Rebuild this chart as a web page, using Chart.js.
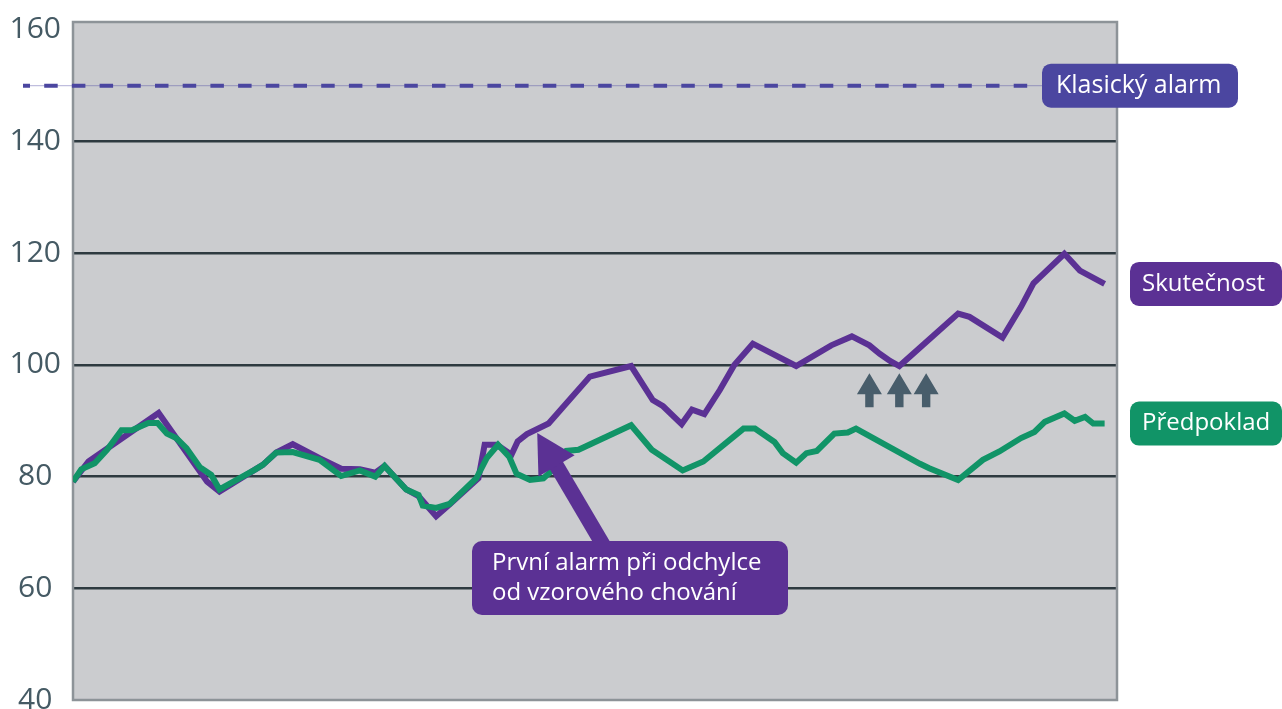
<!DOCTYPE html>
<html>
<head>
<meta charset="utf-8">
<script src="https://cdn.jsdelivr.net/npm/chart.js@4.4.0/dist/chart.umd.min.js"></script>
<style>
  html, body { margin: 0; padding: 0; background: #fff; }
  #wrap { width: 1282px; height: 709px; }
</style>
</head>
<body>
<div id="wrap"><canvas id="chart"></canvas></div>
<script>
// y axis ticks
const yTicks = [40, 60, 80, 100, 120, 140, 160];

// Skutečnost (actual)
const actualDays = [0, 1.5, 8.3, 13.0, 14.2, 17.6, 18.4, 19.7, 21.3, 23.9,
  26.0, 27.8, 29.3, 30.2, 32.3, 33.5, 35.2, 36.5, 39.3, 39.9,
  41.1, 42.5, 43.1, 44.0, 46.1, 50.1, 54.1, 56.2, 57.2, 59.0,
  60.0, 61.2, 62.7, 64.1, 65.9, 70.1, 73.5, 75.5, 77.2, 78.2,
  79.2, 80.1, 85.8, 86.9, 90.1, 91.9, 93.1, 96.1, 97.6, 100];
const actualValues = [79.1, 82.7, 91.4, 79.1, 77.3, 81.2, 82.1, 84.3, 85.8, 83.3,
  81.4, 81.3, 80.7, 81.9, 77.7, 76.5, 72.9, 75.0, 79.7, 85.7,
  85.7, 83.9, 86.3, 87.6, 89.5, 97.9, 99.8, 93.7, 92.6, 89.4,
  92.0, 91.2, 95.5, 100.0, 103.8, 99.8, 103.5, 105.1, 103.5, 102.0,
  100.7, 99.8, 109.2, 108.6, 104.9, 110.4, 114.6, 119.9, 116.9, 114.5];

// Předpoklad (forecast)
const forecastDays = [0, 0.8, 2.1, 3.3, 4.7, 5.7, 7.3, 8.2, 9.1, 10.0,
  11.0, 12.3, 13.4, 14.2, 17.6, 18.4, 19.7, 21.3, 23.9, 26.0,
  27.8, 29.3, 30.2, 32.3, 33.5, 33.9, 35.2, 36.5, 39.1, 40.1,
  41.2, 42.3, 43.0, 44.3, 45.6, 46.5, 47.4, 47.8, 49.0, 54.1,
  56.1, 59.1, 61.1, 65.0, 66.1, 68.0, 68.8, 70.1, 71.1, 72.1,
  73.8, 75.1, 75.9, 82.1, 83.0, 85.8, 88.2, 89.8, 91.9, 93.2,
  94.2, 96.1, 97.1, 98.1, 98.9, 100];
const forecastValues = [79.1, 81.3, 82.4, 84.8, 88.3, 88.3, 89.6, 89.6, 87.7, 86.9,
  85.1, 81.7, 80.3, 77.7, 81.2, 82.1, 84.3, 84.4, 83.0, 80.1,
  81.1, 80.0, 81.9, 77.7, 76.7, 74.8, 74.4, 75.1, 79.7, 83.3,
  85.7, 83.5, 80.5, 79.4, 79.7, 81.2, 83.9, 84.6, 84.8, 89.2,
  84.8, 81.1, 82.7, 88.6, 88.6, 86.2, 84.2, 82.5, 84.2, 84.6,
  87.7, 87.9, 88.6, 82.3, 81.5, 79.4, 83.0, 84.5, 86.9, 88.0,
  89.8, 91.3, 90.0, 90.7, 89.5, 89.5];

const alarmLevel = 150;
const alarmLabel = 'Klasický alarm';
const seriesNames = ['Skutečnost', 'Předpoklad'];
const calloutLines = ['První alarm při odchylce', 'od vzorového chování'];
const calloutPoint = [45.0, 87.8];
const upArrowDays = [77.2, 80.1, 82.7];
const upArrowValue = 98.5;

const PURPLE = '#5b3194';
const GREEN = '#119467';
const INDIGO = '#4b46a0';
const FONT = '"Open Sans", "Noto Sans", sans-serif';

function pts(xs, ys) {
  return xs.map((d, i) => ({ x: d, y: ys[i] }));
}

function box(ctx, x, y, w, h, r, color) {
  ctx.fillStyle = color;
  ctx.beginPath();
  ctx.roundRect(x, y, w, h, r);
  ctx.fill();
}

function label(ctx, text, x, y, size) {
  ctx.fillStyle = '#fff';
  ctx.font = (size || 24) + 'px ' + FONT;
  ctx.textBaseline = 'middle';
  ctx.textAlign = 'left';
  ctx.fillText(text, x, y);
}

const decor = {
  id: 'decor',
  beforeDraw(chart) {
    const { ctx, chartArea: a } = chart;
    ctx.save();
    ctx.fillStyle = '#cbcccf';
    ctx.fillRect(a.left, a.top, a.right - a.left, a.bottom - a.top);
    ctx.restore();
  },
  beforeDatasetsDraw(chart) {
    const { ctx, chartArea: a } = chart;
    ctx.save();
    ctx.strokeStyle = '#8d9398';
    ctx.lineWidth = 2.5;
    ctx.strokeRect(a.left, a.top, a.right - a.left, a.bottom - a.top);
    ctx.restore();
  },
  afterDatasetsDraw(chart) {
    const { ctx, scales: { x, y } } = chart;
    ctx.save();

    // classic alarm threshold
    const ay = y.getPixelForValue(alarmLevel);
    ctx.strokeStyle = 'rgba(75,70,160,0.35)';
    ctx.lineWidth = 1.2;
    ctx.beginPath(); ctx.moveTo(23, ay); ctx.lineTo(1042, ay); ctx.stroke();
    ctx.strokeStyle = INDIGO;
    ctx.lineWidth = 4;
    ctx.setLineDash([13.5, 14.2]);
    ctx.lineDashOffset = 6.5;
    ctx.beginPath(); ctx.moveTo(23, ay); ctx.lineTo(1034, ay); ctx.stroke();
    ctx.setLineDash([]);
    box(ctx, 1042, ay - 22, 196, 44, 9, INDIGO);
    label(ctx, alarmLabel, 1056, ay, 25);

    // end labels
    const ya = y.getPixelForValue(actualValues[actualValues.length - 1]);
    box(ctx, 1130, ya - 22, 152, 44, 9, PURPLE);
    label(ctx, seriesNames[0], 1142, ya);
    const yf = y.getPixelForValue(forecastValues[forecastValues.length - 1]);
    box(ctx, 1130, yf - 22, 152, 44, 9, GREEN);
    label(ctx, seriesNames[1], 1142, yf);

    // grey up arrows
    ctx.fillStyle = '#485d6b';
    const ty = y.getPixelForValue(upArrowValue);
    upArrowDays.forEach(d => {
      const cx = x.getPixelForValue(d);
      ctx.beginPath();
      ctx.moveTo(cx, ty);
      ctx.lineTo(cx + 12.5, ty + 21);
      ctx.lineTo(cx + 4.2, ty + 21);
      ctx.lineTo(cx + 4.2, ty + 34);
      ctx.lineTo(cx - 4.2, ty + 34);
      ctx.lineTo(cx - 4.2, ty + 21);
      ctx.lineTo(cx - 12.5, ty + 21);
      ctx.closePath();
      ctx.fill();
    });

    // callout arrow
    const tx = x.getPixelForValue(calloutPoint[0]);
    const tyy = y.getPixelForValue(calloutPoint[1]);
    const dx = 0.508, dy = 0.862;
    const px = 0.862, py = -0.508;
    ctx.strokeStyle = PURPLE;
    ctx.lineWidth = 15;
    ctx.beginPath();
    ctx.moveTo(tx + dx * 30, tyy + dy * 30);
    ctx.lineTo(tx + dx * 150, tyy + dy * 150);
    ctx.stroke();
    ctx.fillStyle = PURPLE;
    const bx = tx + dx * 38, by = tyy + dy * 38;
    ctx.beginPath();
    ctx.moveTo(tx, tyy);
    ctx.lineTo(bx + px * 21, by + py * 21);
    ctx.lineTo(bx - px * 21, by - py * 21);
    ctx.closePath();
    ctx.fill();

    box(ctx, 472, 541, 316, 74, 10, PURPLE);
    label(ctx, calloutLines[0], 492, 563);
    label(ctx, calloutLines[1], 492, 593);

    ctx.restore();
  }
};

new Chart(document.getElementById('chart'), {
  type: 'line',
  data: {
    datasets: [
      {
        label: seriesNames[1],
        data: pts(forecastDays, forecastValues),
        borderColor: GREEN,
        borderWidth: 6,
        borderJoinStyle: 'miter',
        pointRadius: 0,
        tension: 0,
        order: 1
      },
      {
        label: seriesNames[0],
        data: pts(actualDays, actualValues),
        borderColor: PURPLE,
        borderWidth: 6,
        borderJoinStyle: 'miter',
        pointRadius: 0,
        tension: 0,
        order: 2
      }
    ]
  },
  options: {
    responsive: true,
    maintainAspectRatio: false,
    animation: false,
    layout: { padding: { left: 0, top: 22, right: 165, bottom: 9 } },
    plugins: { legend: { display: false }, tooltip: { enabled: false } },
    scales: {
      x: { type: 'linear', display: false, min: 0, max: 101.2 },
      y: {
        min: 40,
        max: 161.4,
        afterBuildTicks: s => { s.ticks = yTicks.map(v => ({ value: v })); },
        afterFit: s => { s.width = 73; s.paddingTop = 0; s.paddingBottom = 0; },
        border: { display: false },
        grid: {
          drawTicks: false,
          lineWidth: 2.5,
          color: c => (c.tick && (c.tick.value === 40 || c.tick.value === 160)) ? 'rgba(0,0,0,0)' : '#2e3a40'
        },
        ticks: {
          padding: 12,
          crossAlign: 'center',
          color: '#455a64',
          font: { family: FONT, size: 30, lineHeight: 0.6 }
        }
      }
    }
  },
  plugins: [decor]
});
</script>
</body>
</html>
